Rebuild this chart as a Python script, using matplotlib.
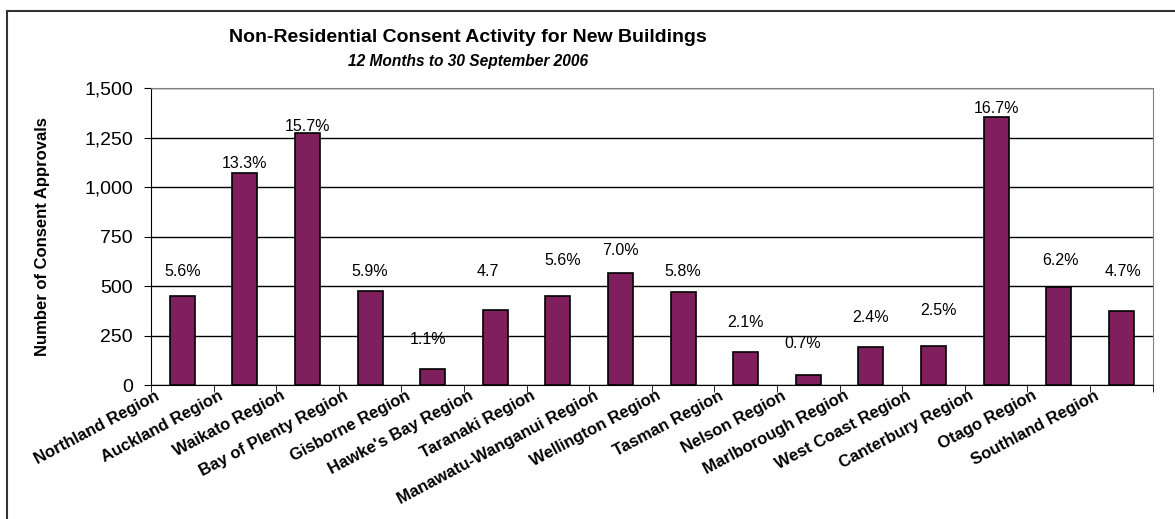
import numpy as np
import matplotlib
matplotlib.use("Agg")
from matplotlib import pyplot as plt
from matplotlib import transforms
from matplotlib.patches import Rectangle

# data
regions = ["Northland Region", "Auckland Region", "Waikato Region", "Bay of Plenty Region",
           "Gisborne Region", "Hawke's Bay Region", "Taranaki Region", "Manawatu-Wanganui Region",
           "Wellington Region", "Tasman Region", "Nelson Region", "Marlborough Region",
           "West Coast Region", "Canterbury Region", "Otago Region", "Southland Region"]
approvals = [449, 1071, 1273, 476, 81, 379, 449, 569, 470, 167, 52, 195, 200, 1353, 498, 375]
shares = ["5.6%", "13.3%", "15.7%", "5.9%", "1.1%", "4.7", "5.6%", "7.0%",
          "5.8%", "2.1%", "0.7%", "2.4%", "2.5%", "16.7%", "6.2%", "4.7%"]
y_ticks = [0, 250, 500, 750, 1000, 1250, 1500]

# label placement (pixels above bar top, horizontal nudge) - mimics the Excel layout
lab_dy = [25, 10, 7, 20, 30, 39, 36, 22, 21, 30, 32, 29, 35, 9, 26, 40]
lab_dx = [0, 0, 0, 0, -5, -8, 5, 0, 0, 0, -6, 0, 5, 0, 2, 2]

plt.rcParams['font.family'] = ['Liberation Sans', 'DejaVu Sans']

fig = plt.figure(figsize=(11.75, 5.19), dpi=100)
ax = fig.add_axes([0.1285, 0.2576, 0.981 - 0.1285, 0.8299 - 0.2576])

x = np.arange(len(regions))
ax.bar(x, approvals, width=0.4, color="#801F5E", edgecolor="black", linewidth=1.2, zorder=3)

for i, (v, s) in enumerate(zip(approvals, shares)):
    ax.annotate(s, (i, v), xytext=(lab_dx[i] * 0.72, lab_dy[i] * 0.72), textcoords="offset points",
                ha="center", va="center", fontsize=11.5)

ax.set_xlim(-0.5, len(regions) - 0.5)
ax.set_ylim(0, 1500)
ax.set_yticks(y_ticks)
ax.set_yticklabels([f"{t:,}" for t in y_ticks], fontsize=14)
ax.yaxis.grid(True, color="black", linewidth=1.0, zorder=0)
ax.set_axisbelow(True)

ax.set_xticks(x)
ax.set_xticklabels(regions, rotation=28, ha="right", rotation_mode="anchor",
                   fontsize=12, fontweight="bold")
ax.set_xticks(np.arange(-0.5, len(regions), 1.0), minor=True)
ax.tick_params(axis="x", which="major", length=0, pad=2)
ax.tick_params(axis="x", which="minor", length=5, direction="out", color="black")
ax.tick_params(axis="y", length=5, pad=8, direction="out", color="black")
shift = transforms.ScaledTranslation(-0.27, 0, fig.dpi_scale_trans)
for lbl in ax.get_xticklabels():
    lbl.set_transform(lbl.get_transform() + shift)

for side in ["top", "right"]:
    ax.spines[side].set_color("#808080")
for side in ["left", "bottom"]:
    ax.spines[side].set_color("black")

ax.set_ylabel("Number of Consent Approvals", fontsize=12, fontweight="bold")
ax.yaxis.set_label_coords(-0.101, 0.5)

fig.text(0.398, 0.928, "Non-Residential Consent Activity for New Buildings",
         ha="center", va="center", fontsize=14, fontweight="bold")
fig.text(0.398, 0.882, "12 Months to 30 September 2006",
         ha="center", va="center", fontsize=11.2, fontweight="bold", style="italic")

# outer chart frame (left and top edges visible)
fig.patches.append(Rectangle((7 / 1175, -0.1), 1.2, 1 - 11 / 519 + 0.1, transform=fig.transFigure,
                             fill=False, edgecolor="#333333", linewidth=1.5))

fig.savefig("out.png", dpi=100)
